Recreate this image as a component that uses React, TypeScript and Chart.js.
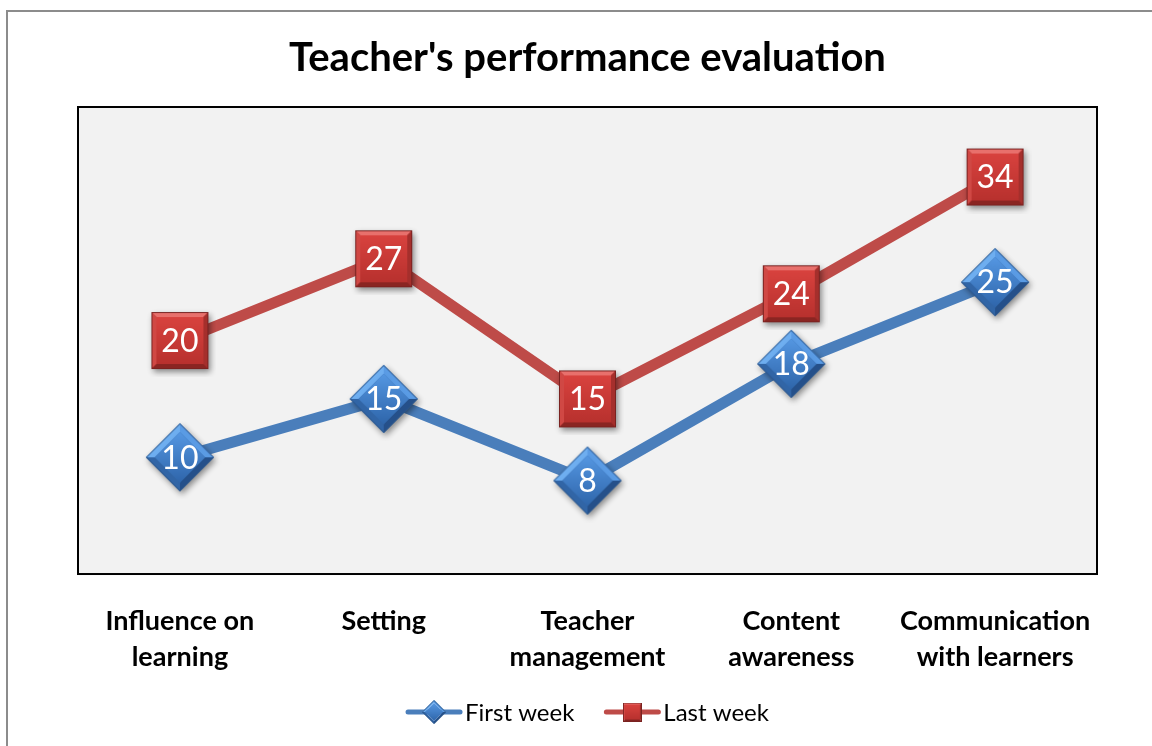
import React, { useEffect, useRef } from 'react';
import { Chart, registerables } from 'chart.js';

Chart.register(...registerables);

const categories: string[][] = [
  ['Influence on', 'learning'],
  ['Setting'],
  ['Teacher', 'management'],
  ['Content', 'awareness'],
  ['Communication', 'with learners'],
];
const seriesNames = ['First week', 'Last week'];
const firstWeek = [10, 15, 8, 18, 25];
const lastWeek = [20, 27, 15, 24, 34];
const titleText = "Teacher's performance evaluation";
const yMin = 0;
const yMax = 40;

const FONT = 'Lato, Carlito, "Open Sans", sans-serif';
const BLUE_LINE = '#4a7ebb';
const RED_LINE = '#be4b48';

type Pt = [number, number];
function poly(g: CanvasRenderingContext2D, pts: Pt[], fill: string | CanvasGradient) {
  g.beginPath();
  g.moveTo(pts[0][0], pts[0][1]);
  for (let i = 1; i < pts.length; i++) g.lineTo(pts[i][0], pts[i][1]);
  g.closePath();
  g.fillStyle = fill;
  g.fill();
}

function makeSquare(half: number, pad: number, shadow: boolean) {
  const c = document.createElement('canvas');
  const s = Math.ceil(half * 2 + pad * 2);
  c.width = s;
  c.height = s;
  const g = c.getContext('2d')!;
  const x0 = s / 2 - half, y0 = s / 2 - half, x1 = s / 2 + half, y1 = s / 2 + half;
  if (shadow) {
    g.save();
    g.shadowColor = 'rgba(0,0,0,0.45)';
    g.shadowBlur = 6;
    g.shadowOffsetX = 2;
    g.shadowOffsetY = 3;
    g.fillStyle = '#b0302d';
    g.fillRect(x0, y0, 2 * half, 2 * half);
    g.restore();
  }
  const b = Math.max(2, Math.round(half * 0.18));
  poly(g, [[x0, y0], [x1, y0], [x1 - b, y0 + b], [x0 + b, y0 + b]], '#e8706c');
  poly(g, [[x0, y0], [x0 + b, y0 + b], [x0 + b, y1 - b], [x0, y1]], '#d04844');
  poly(g, [[x1, y0], [x1, y1], [x1 - b, y1 - b], [x1 - b, y0 + b]], '#a52f2c');
  poly(g, [[x0, y1], [x0 + b, y1 - b], [x1 - b, y1 - b], [x1, y1]], '#8a2522');
  const gr = g.createLinearGradient(0, y0 + b, 0, y1 - b);
  gr.addColorStop(0, '#d8423e');
  gr.addColorStop(1, '#b8312e');
  g.fillStyle = gr;
  g.fillRect(x0 + b, y0 + b, 2 * half - 2 * b, 2 * half - 2 * b);
  g.strokeStyle = '#7a2220';
  g.lineWidth = 1;
  g.strokeRect(x0 + 0.5, y0 + 0.5, 2 * half - 1, 2 * half - 1);
  return c;
}

function makeDiamond(R: number, pad: number, shadow: boolean) {
  const c = document.createElement('canvas');
  const s = Math.ceil(R * 2 + pad * 2);
  c.width = s;
  c.height = s;
  const g = c.getContext('2d')!;
  const cx = s / 2, cy = s / 2;
  const T: Pt = [cx, cy - R], Rr: Pt = [cx + R, cy], B: Pt = [cx, cy + R], L: Pt = [cx - R, cy];
  const r = R * 0.74;
  const iT: Pt = [cx, cy - r], iR: Pt = [cx + r, cy], iB: Pt = [cx, cy + r], iL: Pt = [cx - r, cy];
  if (shadow) {
    g.save();
    g.shadowColor = 'rgba(0,0,0,0.45)';
    g.shadowBlur = 6;
    g.shadowOffsetX = 2;
    g.shadowOffsetY = 3;
    poly(g, [T, Rr, B, L], '#3468a8');
    g.restore();
  }
  poly(g, [T, L, iL, iT], '#6eaef0');
  poly(g, [T, Rr, iR, iT], '#5a9be4');
  poly(g, [Rr, B, iB, iR], '#25508a');
  poly(g, [B, L, iL, iB], '#3165a6');
  const gr = g.createLinearGradient(0, cy - r, 0, cy + r);
  gr.addColorStop(0, '#5597e2');
  gr.addColorStop(1, '#2f66ab');
  poly(g, [iT, iR, iB, iL], gr);
  g.strokeStyle = '#2a5488';
  g.lineWidth = 1;
  g.beginPath();
  g.moveTo(T[0], T[1] + 0.5);
  g.lineTo(Rr[0] - 0.5, Rr[1]);
  g.lineTo(B[0], B[1] - 0.5);
  g.lineTo(L[0] + 0.5, L[1]);
  g.closePath();
  g.stroke();
  return c;
}

const areaPlugin = {
  id: 'areaBg',
  beforeDatasetsDraw(chart: any) {
    const { ctx, chartArea: a } = chart;
    ctx.save();
    ctx.fillStyle = '#f2f2f2';
    ctx.fillRect(a.left, a.top, a.right - a.left, a.bottom - a.top);
    ctx.strokeStyle = '#000000';
    ctx.lineWidth = 2;
    ctx.strokeRect(a.left, a.top, a.right - a.left, a.bottom - a.top);
    ctx.restore();
  },
};

const valueLabelPlugin = {
  id: 'valueLabels',
  afterDatasetsDraw(chart: any) {
    const { ctx } = chart;
    ctx.save();
    ctx.fillStyle = '#ffffff';
    ctx.font = `32px ${FONT}`;
    ctx.textAlign = 'center';
    ctx.textBaseline = 'middle';
    chart.data.datasets.forEach((ds: any, i: number) => {
      const meta = chart.getDatasetMeta(i);
      meta.data.forEach((pt: any, j: number) => {
        ctx.fillText(String(ds.data[j]), pt.x, pt.y + 1);
      });
    });
    ctx.restore();
  },
};

function makeLegendPlugin(symbols: HTMLCanvasElement[]) {
  return {
    id: 'customLegend',
    afterDraw(chart: any) {
      const { ctx, chartArea: a } = chart;
      const y = 700;
      const symW = 56;
      const gap = 3;
      const itemGap = 30;
      ctx.save();
      ctx.font = `24px ${FONT}`;
      ctx.textBaseline = 'middle';
      ctx.textAlign = 'left';
      const dsets = chart.data.datasets;
      const widths = dsets.map((d: any) => ctx.measureText(d.label).width);
      let total = 0;
      widths.forEach((w: number, i: number) => {
        total += symW + gap + w + (i < widths.length - 1 ? itemGap : 0);
      });
      let x = (a.left + a.right) / 2 - total / 2;
      dsets.forEach((d: any, i: number) => {
        ctx.strokeStyle = d.borderColor;
        ctx.lineWidth = 5;
        ctx.lineCap = 'round';
        ctx.beginPath();
        ctx.moveTo(x + 2, y);
        ctx.lineTo(x + symW - 2, y);
        ctx.stroke();
        const s = symbols[i];
        ctx.drawImage(s, x + symW / 2 - s.width / 2, y - s.height / 2);
        ctx.fillStyle = '#000000';
        ctx.fillText(d.label, x + symW + gap, y + 1);
        x += symW + gap + widths[i] + itemGap;
      });
      ctx.restore();
    },
  };
}

export default function App() {
  const ref = useRef<HTMLCanvasElement | null>(null);
  useEffect(() => {
    if (!ref.current) return;
    const diamond = makeDiamond(34, 8, true);
    const square = makeSquare(28.5, 8, true);
    const legDiamond = makeDiamond(12, 0, false);
    const legSquare = makeSquare(9.5, 0, false);
    const chart = new Chart(ref.current, {
      type: 'line',
      data: {
        labels: categories,
        datasets: [
          {
            label: seriesNames[0],
            data: firstWeek,
            borderColor: BLUE_LINE,
            backgroundColor: BLUE_LINE,
            borderWidth: 11,
            pointStyle: diamond as any,
            pointRadius: 30,
            pointHoverRadius: 30,
            tension: 0,
          },
          {
            label: seriesNames[1],
            data: lastWeek,
            borderColor: RED_LINE,
            backgroundColor: RED_LINE,
            borderWidth: 11,
            pointStyle: square as any,
            pointRadius: 30,
            pointHoverRadius: 30,
            tension: 0,
          },
        ],
      },
      options: {
        animation: false,
        responsive: true,
        maintainAspectRatio: false,
        layout: { padding: { left: 70, right: 55, top: 0, bottom: 42 } },
        font: { family: FONT },
        scales: {
          x: {
            offset: true,
            grid: { display: false, drawTicks: false },
            border: { display: false },
            ticks: {
              color: '#000000',
              padding: 29,
              maxRotation: 0,
              autoSkip: false,
              font: { family: FONT, size: 27, weight: 'bold', lineHeight: 1.333 },
            },
          },
          y: {
            display: false,
            min: yMin,
            max: yMax,
          },
        },
        plugins: {
          legend: { display: false },
          tooltip: { enabled: false },
          title: {
            display: true,
            text: titleText,
            color: '#000000',
            font: { family: FONT, size: 40, weight: 'bold', lineHeight: 1.2 },
            padding: { top: 22, bottom: 25 },
          },
        },
      } as any,
      plugins: [areaPlugin, valueLabelPlugin, makeLegendPlugin([legDiamond, legSquare])],
    });
    return () => chart.destroy();
  }, []);

  return (
    <div
      style={{
        position: 'fixed',
        left: 6,
        top: 10,
        width: 1160,
        height: 750,
        border: '2px solid #8c8c8c',
        background: '#ffffff',
      }}
    >
      <div style={{ position: 'relative', width: 1144, height: 734 }}>
        <canvas ref={ref} />
      </div>
    </div>
  );
}
